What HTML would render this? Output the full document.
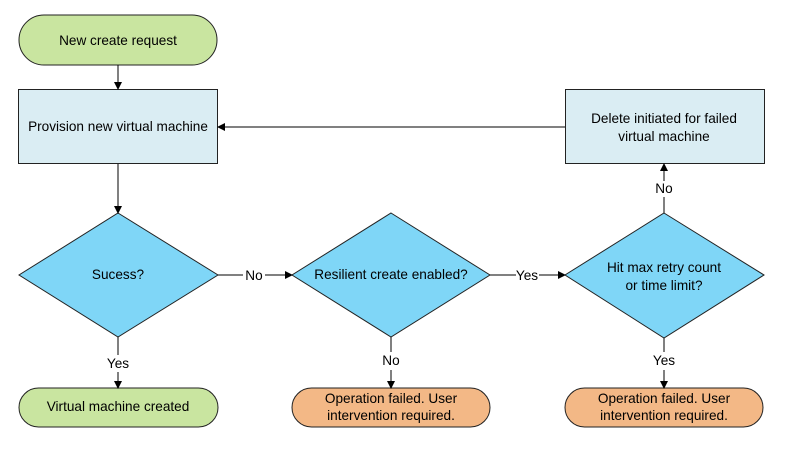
<!DOCTYPE html>
<html><head><style>html,body{margin:0;padding:0;background:#fff}</style></head><body>
<svg width="789" height="444" viewBox="0 0 789 444" xmlns="http://www.w3.org/2000/svg" font-family="Liberation Sans, sans-serif" font-size="13.6" fill="#000">
<defs><marker id="a" markerWidth="8" markerHeight="8" refX="7" refY="4" orient="auto" markerUnits="userSpaceOnUse"><path d="M0,0 L8,4 L0,8 z" fill="#000"/></marker></defs>
<g stroke="#222" stroke-width="1">
<rect x="19" y="15" width="198" height="50" rx="25" fill="#c9e5a0"/>
<rect x="18.5" y="89.5" width="199" height="74" fill="#daedf3"/>
<rect x="565.5" y="89.5" width="199" height="74" fill="#daedf3"/>
<polygon points="118,213 218,275 118,337 19,275" fill="#7fd6f7"/>
<polygon points="391,213 490,275 391,337 292,275" fill="#7fd6f7"/>
<polygon points="664,213 764,275 664,338 565,275" fill="#7fd6f7"/>
<rect x="19" y="388" width="199" height="39" rx="19.5" fill="#c9e5a0"/>
<rect x="292" y="388" width="198" height="39" rx="19.5" fill="#f3b886"/>
<rect x="565" y="388" width="198" height="39" rx="19.5" fill="#f3b886"/>
</g>
<g stroke="#000" stroke-width="1" fill="none">
<line x1="118" y1="65" x2="118" y2="89" marker-end="url(#a)"/>
<line x1="118" y1="164" x2="118" y2="213" marker-end="url(#a)"/>
<line x1="565" y1="127" x2="218" y2="127" marker-end="url(#a)"/>
<line x1="218" y1="275" x2="243" y2="275"/><line x1="265" y1="275" x2="292" y2="275" marker-end="url(#a)"/>
<line x1="490" y1="275" x2="516" y2="275"/><line x1="539" y1="275" x2="565" y2="275" marker-end="url(#a)"/>
<line x1="118" y1="337" x2="118" y2="355"/><line x1="118" y1="372" x2="118" y2="388" marker-end="url(#a)"/>
<line x1="391" y1="337" x2="391" y2="352"/><line x1="391" y1="370" x2="391" y2="388" marker-end="url(#a)"/>
<line x1="664" y1="338" x2="664" y2="352"/><line x1="664" y1="370" x2="664" y2="388" marker-end="url(#a)"/>
<line x1="664" y1="213" x2="664" y2="197"/><line x1="664" y1="181" x2="664" y2="164" marker-end="url(#a)"/>
</g>
<g text-anchor="middle">
<text x="118" y="45">New create request</text>
<text x="118" y="131">Provision new virtual machine</text>
<text x="664" y="123">Delete initiated for failed</text>
<text x="664" y="141">virtual machine</text>
<text x="118" y="279">Sucess?</text>
<text x="391" y="279">Resilient create enabled?</text>
<text x="664" y="272">Hit max retry count</text>
<text x="664" y="290">or time limit?</text>
<text x="118" y="411">Virtual machine created</text>
<text x="391" y="403">Operation failed. User</text>
<text x="391" y="420">intervention required.</text>
<text x="664" y="403">Operation failed. User</text>
<text x="664" y="420">intervention required.</text>
<text x="254" y="280">No</text>
<text x="527" y="280">Yes</text>
<text x="118" y="368">Yes</text>
<text x="391" y="365">No</text>
<text x="664" y="365">Yes</text>
<text x="664" y="193">No</text>
</g>
</svg>
</body></html>
